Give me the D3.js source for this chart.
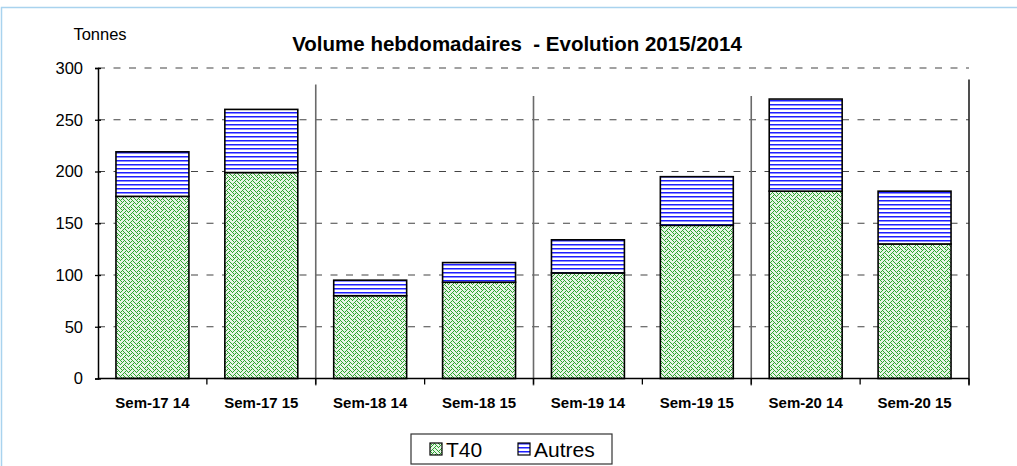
<!DOCTYPE html>
<html>
<head>
<meta charset="utf-8">
<script src="https://cdn.jsdelivr.net/npm/d3@7"></script>
<style>
  html, body { margin: 0; padding: 0; background: #fff; }
  svg { display: block; font-family: "Liberation Sans", Arial, sans-serif; }
</style>
</head>
<body>
<svg width="1017" height="466"></svg>
<script>
let categories = ["Sem-17 14", "Sem-17 15", "Sem-18 14", "Sem-18 15",
                  "Sem-19 14", "Sem-19 15", "Sem-20 14", "Sem-20 15"];
let t40 = [176, 199, 80, 93, 102, 148, 181, 130];
let autres = [43, 61, 15, 19, 32, 47, 89, 51];
let seriesNames = ["T40", "Autres"];
let yTicks = [0, 50, 100, 150, 200, 250, 300];
// week separators: index of category after which they stand, and their top (in tonnes)
let sepAfter = [2, 4, 6, 8];
let sepTop = [284, 273, 273, 289];

let svg = d3.select("svg"),
    plotLeft = 98, plotRight = 969, plotTop = 68, plotBottom = 378.5;

let x = d3.scaleBand().domain(categories).range([plotLeft, plotRight]).paddingInner(0.33).paddingOuter(0.165),
    xb = d3.scaleLinear().domain([0, categories.length]).range([plotLeft, plotRight]),
    y = d3.scaleLinear().domain([0, 300]).range([plotBottom, plotTop]);

let defs = svg.append("defs");

// weave hatch for T40
let weaveRows = [0x88, 0x54, 0x22, 0x45, 0x88, 0x14, 0x22, 0x51];
let weave = defs.append("pattern")
    .attr("id", "weave")
    .attr("patternUnits", "userSpaceOnUse")
    .attr("width", 8).attr("height", 8);
weave.append("rect").attr("width", 8).attr("height", 8).attr("fill", "#e6f4e6");
weaveRows.forEach(function(row, j) {
  for (let i = 0; i < 8; ++i) {
    if (row & (0x80 >> i)) {
      weave.append("rect").attr("x", i).attr("y", j).attr("width", 1).attr("height", 1)
          .attr("fill", "#2ea52e").attr("shape-rendering", "crispEdges");
    }
  }
});

// horizontal stripes for Autres
let stripes = defs.append("pattern")
    .attr("id", "stripes")
    .attr("patternUnits", "userSpaceOnUse")
    .attr("width", 8).attr("height", 4);
stripes.append("rect").attr("width", 8).attr("height", 4).attr("fill", "#fff");
stripes.append("rect").attr("y", 0).attr("width", 8).attr("height", 1).attr("fill", "#1f1fff");
stripes.append("rect").attr("y", 1).attr("width", 8).attr("height", 1).attr("fill", "#8c8cff");

let fills = ["url(#weave)", "url(#stripes)"];

// outer frame
svg.append("rect")
    .attr("x", 1.5).attr("y", 7.5)
    .attr("width", 1100).attr("height", 600)
    .attr("fill", "none")
    .attr("stroke", "#a9d3ee")
    .attr("stroke-width", 1.5);

// gridlines
svg.append("g")
  .selectAll("line")
  .data(yTicks.filter(function(d) { return d > 0; }))
  .enter().append("line")
    .attr("x1", plotLeft).attr("x2", plotRight)
    .attr("y1", function(d) { return y(d); })
    .attr("y2", function(d) { return y(d); })
    .attr("stroke", "#444")
    .attr("stroke-width", 1.2)
    .attr("stroke-dasharray", "7,8.5");

// week separators
svg.append("g")
  .selectAll("line")
  .data(sepAfter)
  .enter().append("line")
    .attr("x1", function(d) { return xb(d); })
    .attr("x2", function(d) { return xb(d); })
    .attr("y1", function(d, i) { return y(sepTop[i]); })
    .attr("y2", plotBottom + 7)
    .attr("stroke", function(d, i) { return i === sepAfter.length - 1 ? "#222" : "#6a6a6a"; })
    .attr("stroke-width", 1.6);

// stacked bars
let stack = d3.stack().keys([0, 1]).value(function(d, k) { return d[k]; });
let rows = categories.map(function(c, i) { return [t40[i], autres[i]]; });
let layers = stack(rows);

svg.append("g")
  .selectAll("g")
  .data(layers)
  .enter().append("g")
    .attr("fill", function(d, i) { return fills[i]; })
  .selectAll("rect")
  .data(function(d) { return d; })
  .enter().append("rect")
    .attr("x", function(d, i) { return x(categories[i]); })
    .attr("y", function(d) { return y(d[1]); })
    .attr("width", x.bandwidth())
    .attr("height", function(d) { return y(d[0]) - y(d[1]); })
    .attr("stroke", "#000")
    .attr("stroke-width", 1.6);

// y axis
let yAxis = svg.append("g")
    .attr("transform", "translate(" + plotLeft + ",0)")
    .call(d3.axisLeft(y).tickValues(yTicks).tickSize(3).tickPadding(12));
yAxis.select(".domain").attr("stroke", "#000").attr("stroke-width", 1.5);
yAxis.selectAll(".tick line").attr("x2", 3).attr("x1", -3).attr("stroke", "#000").attr("stroke-width", 1.3);
yAxis.selectAll("text").attr("font-size", 16.5).attr("fill", "#000").attr("font-family", "Liberation Sans, Arial, sans-serif");

// x axis
svg.append("line")
    .attr("x1", plotLeft).attr("x2", plotRight)
    .attr("y1", plotBottom).attr("y2", plotBottom)
    .attr("stroke", "#000").attr("stroke-width", 1.5);
svg.append("g")
  .selectAll("line")
  .data(d3.range(1, categories.length + 1))
  .enter().append("line")
    .attr("x1", function(d) { return xb(d); })
    .attr("x2", function(d) { return xb(d); })
    .attr("y1", plotBottom).attr("y2", plotBottom + 6)
    .attr("stroke", "#000").attr("stroke-width", 1.3);

svg.append("g")
  .selectAll("text")
  .data(categories)
  .enter().append("text")
    .attr("x", function(d) { return x(d) + x.bandwidth() / 2; })
    .attr("y", 408)
    .attr("text-anchor", "middle")
    .attr("font-size", 15)
    .attr("font-weight", "bold")
    .text(function(d) { return d; });

// titles
svg.append("text")
    .attr("x", 517).attr("y", 51)
    .attr("text-anchor", "middle")
    .attr("font-size", 20.5)
    .attr("font-weight", "bold")
    .style("white-space", "pre")
    .text("Volume hebdomadaires  - Evolution 2015/2014");

svg.append("text")
    .attr("x", 100).attr("y", 40)
    .attr("text-anchor", "middle")
    .attr("font-size", 16.5)
    .text("Tonnes");

// legend
let legend = svg.append("g");
legend.append("rect")
    .attr("x", 411).attr("y", 434)
    .attr("width", 201).attr("height", 30)
    .attr("fill", "#fff").attr("stroke", "#333").attr("stroke-width", 1.2);
let legendX = [430, 518];
let item = legend.selectAll("g.item")
    .data(seriesNames)
  .enter().append("g")
    .attr("class", "item")
    .attr("transform", function(d, i) { return "translate(" + legendX[i] + ",443)"; });
item.append("rect")
    .attr("width", 12).attr("height", 12)
    .attr("fill", function(d, i) { return fills[i]; })
    .attr("stroke", "#000").attr("stroke-width", 1.2);
item.append("text")
    .attr("x", 16).attr("y", 13.5)
    .attr("font-size", 21)
    .text(function(d) { return d; });
</script>
</body>
</html>
